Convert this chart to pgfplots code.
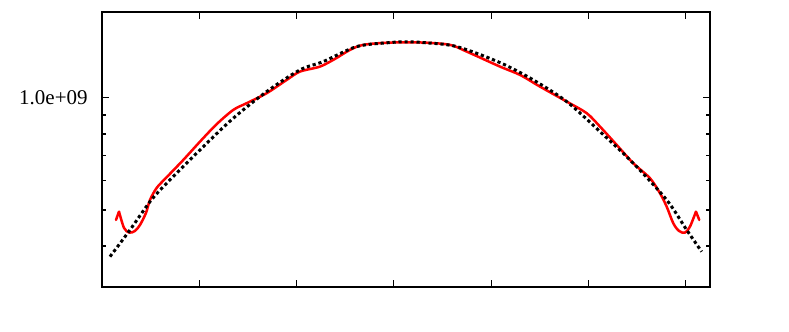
\documentclass[border=0pt]{standalone}
\usepackage{fontspec}
\setmainfont{Liberation Serif}
\usepackage{pgfplots}
\pgfplotsset{compat=1.18}
\begin{document}
\begin{tikzpicture}
\path[use as bounding box] (0,0) rectangle (394.5pt,166pt);
\begin{axis}[
  at={(51pt,22.5pt)}, anchor=south west,
  scale only axis, width=304pt, height=137.5pt,
  ymode=log,
  xmin=0, xmax=6.249, ymin=3.104e8, ymax=1.702e9,
  xtick={1,2,3,4,5,6}, xticklabels={},
  ytick={1e9}, yticklabels={1.0e+09},
  minor ytick={4e8,5e8,6e8,7e8,8e8,9e8},
  tick align=inside, major tick length=3.5pt, minor tick length=2pt,
  axis line style={line width=0.9pt},
  every tick/.style={black, line width=0.6pt},
  yticklabel style={font=\fontsize{10.5}{12}\selectfont, inner sep=0pt, xshift=-7pt},
]
\addplot[red, line width=1.25pt, line cap=round] coordinates {
(0.1439,4.699e8) (0.1747,4.949e8)
};
\addplot[red, line width=1.25pt, smooth, tension=0.5, line join=round] coordinates {
(0.1747,4.949e8) (0.2261,4.473e8) (0.2806,4.344e8) (0.3392,4.390e8)
(0.3905,4.556e8) (0.4522,4.909e8) (0.4933,5.318e8) (0.5622,5.731e8) (0.6650,6.122e8)
(0.8356,6.812e8) (1.0072,7.630e8) (1.1788,8.500e8) (1.3494,9.284e8) (1.4872,9.678e8)
(1.6927,1.0295e9) (1.8983,1.1177e9) (2.0350,1.1767e9) (2.2405,1.2137e9) (2.3947,1.2729e9)
(2.5488,1.3459e9) (2.6855,1.3884e9) (2.9599,1.4083e9) (3.3022,1.4083e9) (3.5766,1.3884e9)
(3.7482,1.3320e9) (4.0904,1.2137e9) (4.2960,1.1529e9) (4.5015,1.0724e9) (4.7760,9.774e8)
(4.9815,9.097e8) (5.1182,8.374e8) (5.2898,7.477e8) (5.4604,6.675e8) (5.6320,6.084e8)
(5.7348,5.544e8) (5.8037,5.103e8) (5.8715,4.605e8) (5.9301,4.390e8) (5.9918,4.344e8)
(6.0432,4.509e8) (6.1048,4.949e8)
};
\addplot[red, line width=1.25pt, line cap=round] coordinates {
(6.1048,4.949e8) (6.1387,4.699e8)
};
\addplot[black, line width=1.5pt, dash pattern=on 1.6pt off 1.4pt, smooth] coordinates {
(0.0822,3.745e8) (0.2878,4.418e8) (0.4933,5.262e8) (0.6650,5.899e8) (1.0072,7.249e8)
(1.3494,8.818e8) (1.6927,1.0398e9) (2.0350,1.1893e9) (2.2744,1.2519e9) (2.6177,1.3737e9)
(2.9599,1.4083e9) (3.1244,1.4142e9) (3.3022,1.4083e9) (3.6454,1.3737e9) (4.0904,1.2441e9)
(4.4327,1.1177e9) (4.7760,9.774e8) (5.1182,8.119e8) (5.4604,6.675e8) (5.8037,5.318e8)
(6.0093,4.418e8) (6.1634,3.862e8)
};
\end{axis}
\end{tikzpicture}
\end{document}
